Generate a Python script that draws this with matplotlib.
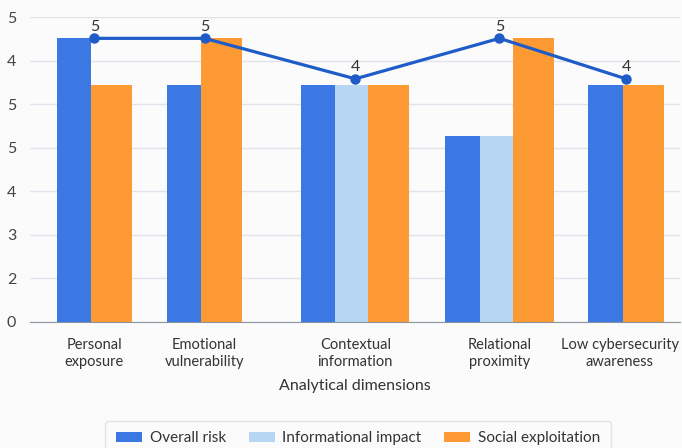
import numpy as np
import matplotlib
matplotlib.use("Agg")
import matplotlib.pyplot as plt

plt.rcParams['font.family'] = ['Lato', 'DejaVu Sans']

# data (in grid units, as drawn)
categories = ["Personal\nexposure", "Emotional\nvulnerability", "Contextual\ninformation",
              "Relational\nproximity", "Low cybersecurity\nawareness"]
overall_risk = [6.51, 5.44, 5.44, 4.27, 5.44]
informational_impact = [None, None, 5.44, 4.27, None]
social_exploitation = [5.44, 6.51, 5.44, 6.51, 5.44]
line_values = [6.51, 6.51, 5.58, 6.51, 5.58]
line_labels = ["5", "5", "4", "5", "4"]
ytick_labels = ["0", "2", "3", "4", "5", "5", "4", "5"]

# layout
group_pos = [0, 1.0, 2.37, 3.68, 4.83]
label_shift = [0, 0, 0, 0, -4.5]   # points, keeps the last label inside the figure
series = [("Overall risk", overall_risk, "#3b78e3", 0.31),
          ("Informational impact", informational_impact, "#b7d6f4", 0.30),
          ("Social exploitation", social_exploitation, "#fd9a34", 0.373)]

fig = plt.figure(figsize=(6.82, 4.48), dpi=100)
fig.patch.set_facecolor("#fbfbfc")
ax = fig.add_axes([0.044, 0.282, 0.953, 0.68])
ax.set_facecolor("#fbfbfc")

handles = {}
for i, c in enumerate(group_pos):
    present = [(n, v[i], col, w) for n, v, col, w in series if v[i] is not None]
    total = sum(p[3] for p in present)
    left = c - total / 2
    for n, val, col, w in present:
        b = ax.bar(left, val, width=w, align="edge", color=col, zorder=2)
        handles[n] = b
        left += w

ax.plot(group_pos, line_values, color="#1f5cc8", lw=2.3, marker="o", ms=6.5, zorder=4)
for x, y, t in zip(group_pos, line_values, line_labels):
    ax.text(x, y + 0.1, t, ha="center", va="bottom", fontsize=11.5, color="#333333", zorder=5)

ax.set_xlim(-0.586, 5.32)
ax.set_ylim(0, 7)
ax.set_yticks(range(8))
ax.set_yticklabels(ytick_labels, fontsize=11.5, color="#444444")
ax.set_xticks(group_pos)
ax.set_xticklabels([])
for x, lab, dx in zip(group_pos, categories, label_shift):
    ax.annotate(lab, (x, 0), xycoords=("data", "axes fraction"), xytext=(dx, -11.5),
                textcoords="offset points", ha="center", va="top", fontsize=10.5,
                color="#333333", linespacing=1.35, annotation_clip=False)
ax.tick_params(axis="both", length=0)
ax.tick_params(axis="y", pad=10)
ax.grid(axis="y", color="#e2e2ea", lw=1, zorder=0)
for s in ["top", "right", "left"]:
    ax.spines[s].set_visible(False)
ax.spines["bottom"].set_color("#8a949c")
ax.spines["bottom"].set_zorder(3)
ax.text(0.5, -0.212, "Analytical dimensions", transform=ax.transAxes, ha="center", va="center",
        fontsize=11.5, color="#333333")

leg = fig.legend([handles[n] for n, _, _, _ in series], [n for n, _, _, _ in series],
                 loc="lower center", bbox_to_anchor=(0.525, -0.035), ncol=3, fontsize=11,
                 frameon=True, handlelength=1.7, handleheight=0.55, columnspacing=1.5,
                 handletextpad=0.5, borderpad=0.7)
leg.get_frame().set_edgecolor("#dddddd")
leg.get_frame().set_facecolor("#fbfbfc")
for t in leg.get_texts():
    t.set_color("#333333")

fig.savefig("out.png", dpi=100, facecolor=fig.get_facecolor())
